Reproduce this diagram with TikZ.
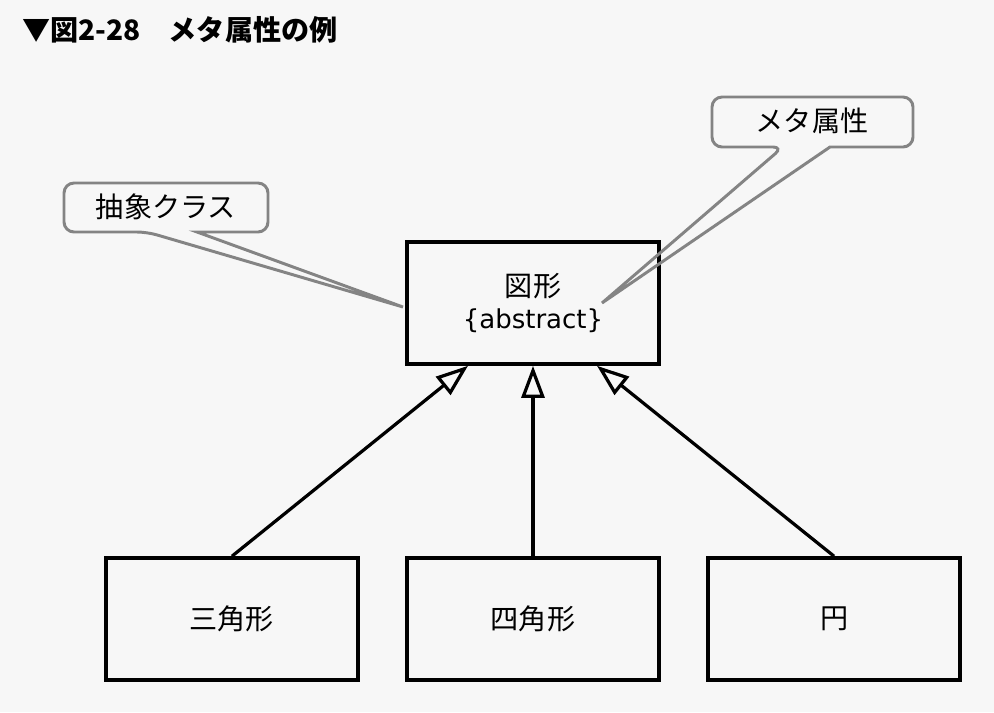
\documentclass[tikz,border=0pt]{standalone}
\usepackage{fontspec}
\setmainfont{Noto Sans CJK JP}
\newfontfamily\latinfont{DejaVu Sans}
\usetikzlibrary{arrows.meta}

\definecolor{paper}{HTML}{F7F7F7}
\definecolor{notegray}{HTML}{848484}

\tikzstyle{block} = [draw, line width=2.6pt, rectangle, align=center,
    minimum height=3.05cm, minimum width=6.3cm,
    font=\fontsize{20}{23}\selectfont]
\tikzstyle{note} = [draw=notegray, line width=2.1pt, rounded corners=0.25cm]
\tikzstyle{notetext} = [font=\fontsize{20}{23}\selectfont]
\tikzstyle{inherit} = [line width=2.3pt,
    -{Triangle[open, length=0.8cm, width=0.575cm]}]

\begin{document}
\begin{tikzpicture}[x=0.025cm, y=-0.025cm, node distance=7.525cm]
    \fill [paper] (0,0) rectangle (994,712);
    \useasboundingbox (0,0) rectangle (994,712);

    \node [anchor=west, inner sep=0pt, font=\bfseries\fontsize{20}{23}\selectfont] (title) at (22,30) {▼図2-28　メタ属性の例};

    \node [block] (shape) at (533,303) {図形\\{\latinfont\fontsize{18.5}{23}\selectfont\{abstract\}}};
    \node [block, below of=shape, node distance=7.9cm] (square) {四角形};
    \node [block, left of=square] (triangle) {三角形};
    \node [block, right of=square] (circle) {円};

    \draw [inherit] (triangle.north) -- ([xshift=-1.625cm]shape.south);
    \draw [inherit] (square.north) -- (shape.south);
    \draw [inherit] (circle.north) -- ([xshift=1.6cm]shape.south);

    % callouts
    \node [notetext] (abstractnote) at (166,207) {抽象クラス};
    \coordinate (abstracttip) at (403,307);
    \draw [note] (197,232) -- (268,232) -- (268,183) -- (64,183) -- (64,232) -- (147,232)
        [sharp corners] -- (abstracttip) -- cycle;

    \node [notetext] (metanote) at (812,121) {メタ属性};
    \coordinate (metatip) at (602,303);
    \draw [note] (830,147) -- (913,147) -- (913,97) -- (712,97) -- (712,147) -- (783,147)
        [sharp corners] -- (metatip) -- cycle;
\end{tikzpicture}
\end{document}
